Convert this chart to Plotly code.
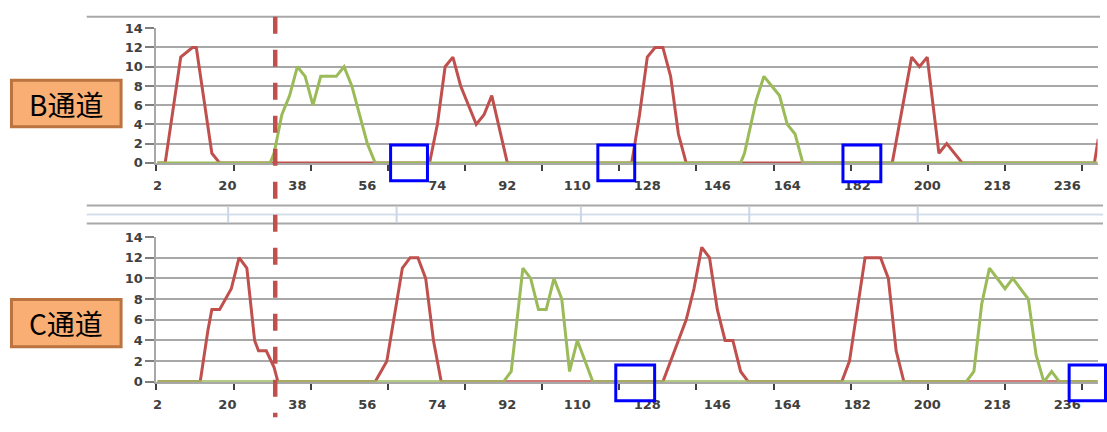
import plotly.graph_objects as go

# ---------------- data (category index -> value, break points of each line) ----------------
x_ticks = [2, 20, 38, 56, 74, 92, 110, 128, 146, 164, 182, 200, 218, 236]

b_red_x = [2, 4, 8, 11, 12, 16, 18, 72, 74, 76, 78, 80, 84, 86, 88, 92,
           124, 126, 128, 130, 132, 134, 136, 138, 191, 196, 198, 200, 203, 205, 209, 243, 244]
b_red_y = [0, 0, 11, 12, 12, 1, 0, 0, 4, 10, 11, 8, 4, 5, 7, 0,
           0, 5, 11, 12, 12, 9, 3, 0, 0, 11, 10, 11, 1, 2, 0, 0, 2.5]

b_green_x = [2, 31, 32, 34, 36, 38, 40, 42, 44, 48, 50, 52, 56, 58,
             152, 153, 156, 158, 160, 162, 164, 166, 168, 244]
b_green_y = [0, 0, 1, 5, 7, 10, 9, 6, 9, 9, 10, 8, 2, 0,
             0, 1, 6.5, 9, 8, 7, 4, 3, 0, 0]

c_red_x = [2, 13, 15, 16, 18, 21, 23, 25, 27, 28, 30, 32, 33,
           58, 61, 65, 67, 69, 71, 73, 75,
           132, 138, 140, 142, 144, 146, 148, 150, 152, 154,
           178, 180, 184, 188, 190, 192, 194, 244]
c_red_y = [0, 0, 5, 7, 7, 9, 12, 11, 4, 3, 3, 1.4, 0,
           0, 2, 11, 12, 12, 10, 4, 0,
           0, 6, 9, 13, 12, 7, 4, 4, 1, 0,
           0, 2, 12, 12, 10, 3, 0, 0]

c_green_x = [2, 91, 93, 96, 98, 100, 102, 104, 106, 108, 110, 112, 114,
             210, 212, 214, 216, 220, 222, 226, 228, 230, 232, 234, 244]
c_green_y = [0, 0, 1, 11, 10, 7, 7, 10, 8, 1, 4, 2, 0,
             0, 1, 7.5, 11, 9, 10, 8, 2.6, 0, 1, 0, 0]

channel_labels = ["B通道", "C通道"]
marker_category = 32.3

# ---------------- styling ----------------
W, H = 1107, 432
RED = "#C0504D"
GREEN = "#9BBB59"
GRID = "#A8A8A8"
TXT = "#404040"


def px(x):
    return x / W


def py(y):
    return 1 - y / H


fig = go.Figure()
fig.add_trace(go.Scatter(x=b_red_x, y=b_red_y, mode="lines", line=dict(color=RED, width=3),
                         xaxis="x", yaxis="y", hoverinfo="skip"))
fig.add_trace(go.Scatter(x=b_green_x, y=b_green_y, mode="lines", line=dict(color=GREEN, width=3),
                         xaxis="x", yaxis="y", hoverinfo="skip"))
fig.add_trace(go.Scatter(x=c_red_x, y=c_red_y, mode="lines", line=dict(color=RED, width=3),
                         xaxis="x2", yaxis="y2", hoverinfo="skip"))
fig.add_trace(go.Scatter(x=c_green_x, y=c_green_y, mode="lines", line=dict(color=GREEN, width=3),
                         xaxis="x2", yaxis="y2", hoverinfo="skip"))

tickfont = dict(family="DejaVu Sans", size=13, color=TXT, weight="bold")
xdom = [px(153), px(1097.5)]
xrange = [1.75, 243.8]


def xaxis(anchor):
    return dict(domain=xdom, range=xrange, anchor=anchor,
                tickmode="array", tickvals=x_ticks, ticktext=[str(v) for v in x_ticks],
                ticks="", showgrid=False, zeroline=False,
                showline=True, linecolor=GRID, linewidth=2,
                tickfont=tickfont, ticklabelstandoff=10,
                minor=dict(ticks="outside", tickmode="linear", tick0=1.75, dtick=19.84,
                           ticklen=6, tickwidth=2, tickcolor=TXT, showgrid=False))


def yaxis(dom, anchor):
    return dict(domain=dom, range=[0, 14.02], anchor=anchor, tick0=0, dtick=2,
                showgrid=True, gridcolor=GRID, gridwidth=2, zeroline=False,
                showline=True, linecolor=GRID, linewidth=2,
                ticks="outside", ticklen=9, tickwidth=2, tickcolor="#7F7F7F",
                tickfont=tickfont)


shapes = []
# chart frame lines / separator strip
line_style = dict(color=GRID, width=2)
shapes.append(dict(type="line", xref="paper", yref="paper", x0=px(83), x1=px(1100),
                   y0=py(10), y1=py(10), line=line_style))
for yy in (205.7, 224.3):
    shapes.append(dict(type="line", xref="paper", yref="paper", x0=px(83), x1=px(1103),
                       y0=py(yy), y1=py(yy), line=line_style))
shapes.append(dict(type="line", xref="paper", yref="paper", x0=px(83), x1=px(1103),
                   y0=py(215), y1=py(215), line=dict(color="#D5DFEC", width=2)))
for xx in (225, 394, 579, 748, 917):
    shapes.append(dict(type="line", xref="paper", yref="paper", x0=px(xx), x1=px(xx),
                       y0=py(206.5), y1=py(223.5), line=dict(color="#CBD6E6", width=2)))

# channel label boxes
for (y0, y1) in ((76, 124), (303, 352)):
    shapes.append(dict(type="rect", xref="paper", yref="paper", x0=px(7.5), x1=px(117.5),
                       y0=py(y1), y1=py(y0), fillcolor="#F9AE74",
                       line=dict(color="#BB7440", width=3), layer="above"))

# blue highlight boxes
for (x0, x1, y0, y1) in ((388, 425, 143, 180), (596, 633, 143, 180), (842, 880, 143, 181),
                         (614, 653, 371, 408), (1069, 1105.5, 371, 408)):
    shapes.append(dict(type="rect", xref="paper", yref="paper", x0=px(x0), x1=px(x1),
                       y0=py(y1), y1=py(y0), line=dict(color="#0000FF", width=3), layer="above"))

# dashed marker line through both panels
shapes.append(dict(type="line", xref="x", yref="paper", x0=marker_category, x1=marker_category,
                   y0=py(10), y1=py(425), line=dict(color=RED, width=4.5, dash="17px,16px"),
                   layer="above"))

annotations = []
for label, yc in zip(channel_labels, (100, 327.5)):
    annotations.append(dict(text=label, xref="paper", yref="paper", x=px(62.5), y=py(yc),
                            showarrow=False, xanchor="center", yanchor="middle",
                            font=dict(family="Noto Sans CJK SC", size=28, color="#000000")))

fig.update_layout(
    width=W, height=H, margin=dict(l=0, r=0, t=0, b=0),
    paper_bgcolor="white", plot_bgcolor="white", showlegend=False,
    xaxis=xaxis("y"), yaxis=yaxis([py(161.5), py(21.8)], "x"),
    xaxis2=xaxis("y2"), yaxis2=yaxis([py(388.3), py(238.1)], "x2"),
    shapes=shapes, annotations=annotations,
)

fig.write_html("out.html", config={"displayModeBar": False},
               post_script="document.body.style.margin='0px';document.body.style.overflow='hidden';")
